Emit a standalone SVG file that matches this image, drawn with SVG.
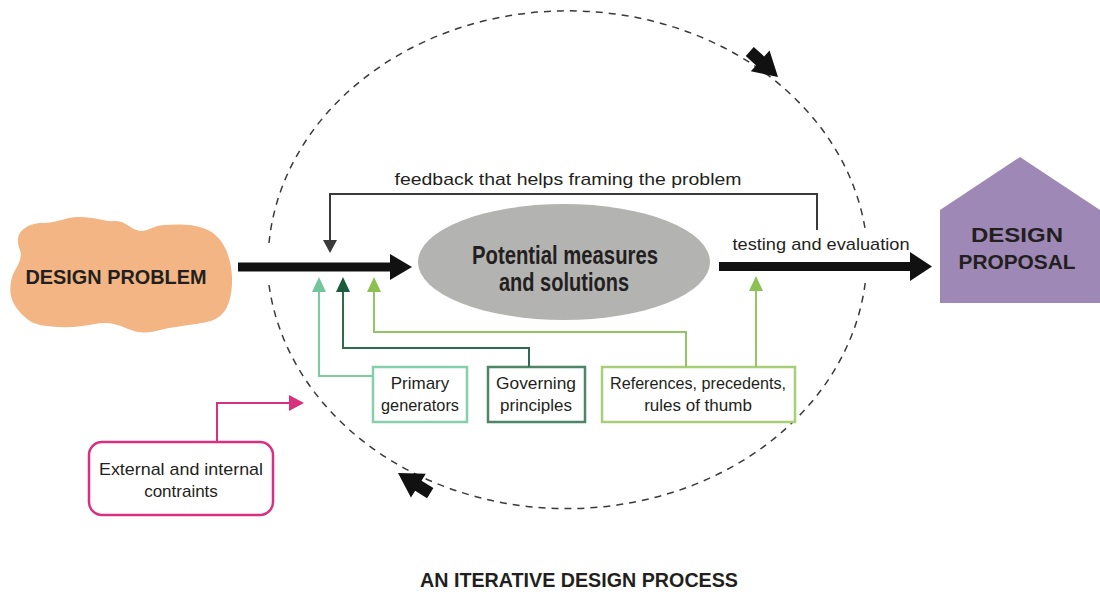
<svg xmlns="http://www.w3.org/2000/svg" width="1100" height="592" viewBox="0 0 1100 592">
<style>
  .t { font-family: "Liberation Sans", Arial, sans-serif; fill: #231f20; }
  .b { font-weight: bold; }
  .s { font-size: 17px; }
  .box { fill: #ffffff; stroke-width: 2.5; }
  .dash { fill: none; stroke: #3a3a3a; stroke-width: 1.5; stroke-dasharray: 7 6; }
  .ln { fill: none; stroke-width: 2; }
</style>
<rect width="1100" height="592" fill="#ffffff"/>

<g id="cycle">
  <path class="dash" d="M269,243 A300,253 0 0 1 865.6,232"/>
  <path class="dash" d="M865.2,283 A300,253 0 0 1 269,285"/>
  <polygon fill="#111" transform="translate(778,77) rotate(42)" points="0,0 -24,-14 -24,-6 -38,-6 -38,6 -24,6 -24,14"/>
  <polygon fill="#111" transform="translate(398,473) rotate(212)" points="0,0 -24,-14 -24,-6 -38,-6 -38,6 -24,6 -24,14"/>
</g>

<g id="design-problem">
  <path fill="#f2b583" d="M20,250 C12,232 28,222 45,223 C60,222 68,216 80,217 C95,217 105,222 115,221 C125,220 132,231 142,231 C150,230 155,225 165,225 C180,224 192,224 203,228 C218,233 226,245 230,262 C234,280 232,298 226,309 C218,322 206,322 196,324 C183,326 172,327 160,330 C150,333 140,334 128,329 C115,323 105,322 95,324 C82,326 72,328 60,327 C45,326 35,326 26,318 C15,308 8,298 11,282 C12,270 24,262 20,250 Z"/>
  <text class="t b" x="116" y="284" font-size="20" text-anchor="middle" textLength="181" lengthAdjust="spacingAndGlyphs">DESIGN PROBLEM</text>
</g>

<g id="potential">
  <ellipse cx="564" cy="262" rx="146" ry="58" fill="#b3b3b1"/>
  <text class="t b" x="565" y="264" font-size="25" text-anchor="middle" textLength="186" lengthAdjust="spacingAndGlyphs">Potential measures</text>
  <text class="t b" x="564" y="291" font-size="25" text-anchor="middle" textLength="130" lengthAdjust="spacingAndGlyphs">and solutions</text>
</g>

<g id="design-proposal">
  <polygon fill="#9e88b6" points="940,210 1020,157 1100,210 1100,303 940,303"/>
  <text class="t b" x="1017" y="242" font-size="21" text-anchor="middle" textLength="92" lengthAdjust="spacingAndGlyphs">DESIGN</text>
  <text class="t b" x="1017" y="269" font-size="21" text-anchor="middle" textLength="117" lengthAdjust="spacingAndGlyphs">PROPOSAL</text>
</g>

<g id="primary-generators">
  <rect class="box" x="373" y="367" width="94" height="55" stroke="#86cfab"/>
  <text class="t s" x="420" y="389" text-anchor="middle">Primary</text>
  <text class="t s" x="420" y="411" text-anchor="middle" textLength="78" lengthAdjust="spacingAndGlyphs">generators</text>
</g>

<g id="governing-principles">
  <rect class="box" x="488" y="367" width="97" height="55" stroke="#4d8566"/>
  <text class="t s" x="536" y="389" text-anchor="middle" textLength="80" lengthAdjust="spacingAndGlyphs">Governing</text>
  <text class="t s" x="536" y="411" text-anchor="middle">principles</text>
</g>

<g id="references">
  <rect class="box" x="602" y="367" width="193" height="55" stroke="#a6cf78"/>
  <text class="t s" x="698" y="389" text-anchor="middle" textLength="176" lengthAdjust="spacingAndGlyphs">References, precedents,</text>
  <text class="t s" x="698" y="411" text-anchor="middle">rules of thumb</text>
</g>

<g id="constraints">
  <rect class="box" x="89" y="442" width="184" height="73" rx="13" ry="13" stroke="#d6307f"/>
  <text class="t s" x="181" y="475" text-anchor="middle" textLength="164" lengthAdjust="spacingAndGlyphs">External and internal</text>
  <text class="t s" x="181" y="497" text-anchor="middle">contraints</text>
</g>

<g id="connectors">
  <line x1="238" y1="267" x2="392" y2="267" stroke="#111" stroke-width="9"/>
  <polygon fill="#111" points="390,254 412,267 390,280"/>
  <line x1="719" y1="266.5" x2="912" y2="266.5" stroke="#111" stroke-width="9"/>
  <polygon fill="#111" points="910,252 932,266.5 910,281"/>
  <text class="t s" x="821" y="250" text-anchor="middle" textLength="177" lengthAdjust="spacingAndGlyphs">testing and evaluation</text>

  <polyline class="ln" stroke="#3a3a3a" stroke-width="1.5" points="817,230 817,194 330,194 330,242"/>
  <polygon fill="#3a3a3a" points="323,240 330,253 337,240"/>
  <text class="t s" x="568" y="185" text-anchor="middle" textLength="347" lengthAdjust="spacingAndGlyphs">feedback that helps framing the problem</text>

  <polyline class="ln" stroke="#7dcba4" points="373,376 319,376 319,291"/>
  <polygon fill="#74c59c" points="312,292 319,277 326,292"/>
  <polyline class="ln" stroke="#2f6b4f" points="529,367 529,348 343,348 343,291"/>
  <polygon fill="#1a5c3a" points="336,292 343,277 350,292"/>
  <polyline class="ln" stroke="#93c662" points="686,367 686,332 374,332 374,291"/>
  <polygon fill="#8cc152" points="367,292 374,277 381,292"/>
  <polyline class="ln" stroke="#93c662" points="756,367 756,291"/>
  <polygon fill="#8cc152" points="749,291 756,276 763,291"/>
  <polyline class="ln" stroke="#d6307f" points="217,442 217,403 290,403"/>
  <polygon fill="#d6307f" points="289,395 304,403 289,411"/>
</g>

<g id="title">
  <text class="t b" x="579" y="587" font-size="19.5" text-anchor="middle" textLength="318" lengthAdjust="spacingAndGlyphs">AN ITERATIVE DESIGN PROCESS</text>
</g>
</svg>
